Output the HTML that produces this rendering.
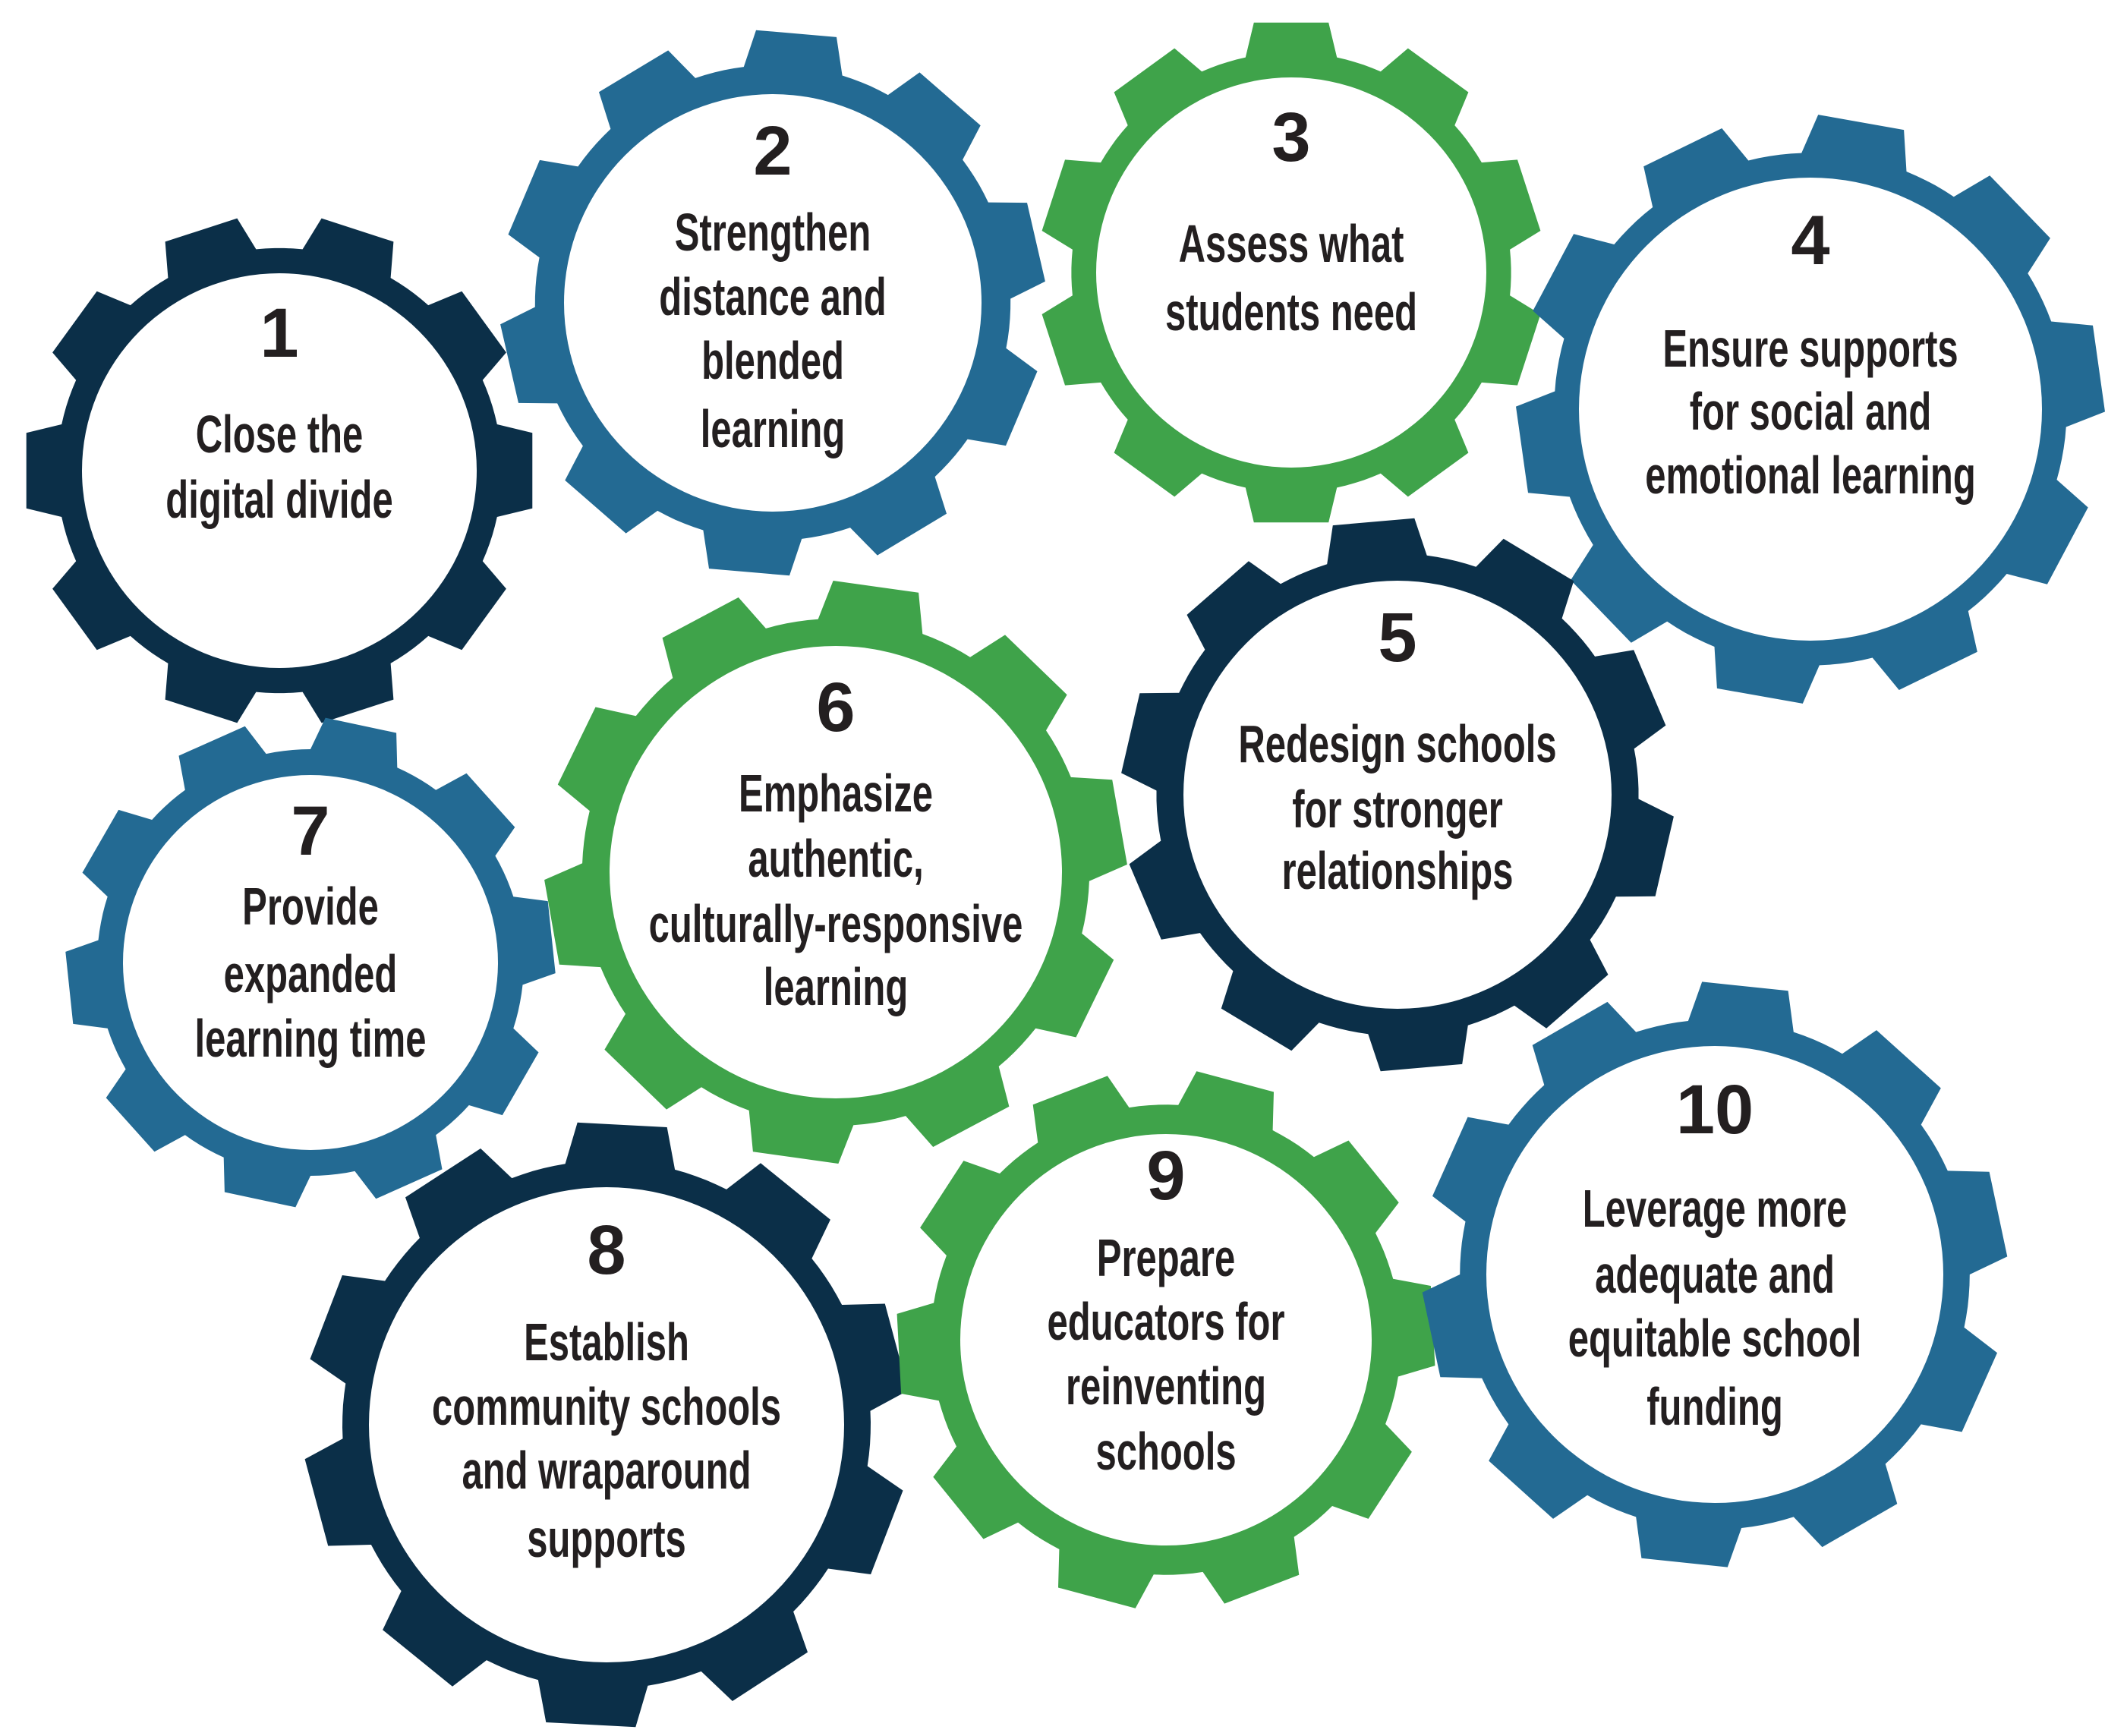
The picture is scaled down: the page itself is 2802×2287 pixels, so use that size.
<!DOCTYPE html>
<html><head><meta charset="utf-8"><style>
html,body{margin:0;padding:0;background:#fff}
svg{display:block}
text{font-family:"Liberation Sans",sans-serif;font-weight:bold;fill:#231f20;text-anchor:middle}
</style></head><body>
<svg id="s" width="2802" height="2287" viewBox="0 0 2802 2287" xmlns="http://www.w3.org/2000/svg">
<rect width="2802" height="2287" fill="#fff"/>
<g id="gears"></g>
<g id="texts"></g>
</svg>
<script>
var N='#0b2f48',B='#236a93',G='#3fa34a';
var gears=[
 [368,620,337,260,N,18,'1',470,[['Close the',596],['digital divide',682]]],
 [1018,399,360,275,B,5,'2',230,[['Strengthen',330],['distance and',415],['blended',499],['learning',589]]],
 [1701,359,333,257,G,0,'3',212,[['Assess what',345],['students need',435]]],
 [2385,539,388,305,B,10,'4',348,[['Ensure supports',483],['for social and',566],['emotional learning',650]]],
 [1841,1047,365,282,N,-5,'5',871,[['Redesign schools',1004],['for stronger',1090],['relationships',1171]]],
 [1101,1149,384,298,G,8,'6',963,[['Emphasize',1069],['authentic,',1155],['culturally-responsive',1241],['learning',1324]]],
 [409,1268,323,247,B,12,'7',1126,[['Provide',1218],['expanded',1307],['learning time',1392]]],
 [799,1877,400,313,N,3,'8',1678,[['Establish',1792],['community schools',1877],['and wraparound',1961],['supports',2051]]],
 [1536,1765,356,271,G,15,'9',1580,[['Prepare',1681],['educators for',1765],['reinventing',1850],['schools',1936]]],
 [2259,1679,386,301,B,6,'10',1493,[['Leverage more',1616],['adequate and',1703],['equitable school',1787],['funding',1877]]]
];
var ns='http://www.w3.org/2000/svg',gg=document.getElementById('gears'),tg=document.getElementById('texts');
function pt(cx,cy,r,a){a=(a-90)*Math.PI/180;return (cx+r*Math.cos(a)).toFixed(1)+','+(cy+r*Math.sin(a)).toFixed(1);}
gears.forEach(function(g){
 var cx=g[0],cy=g[1],R=g[2],ri=g[3],col=g[4],off=g[5],rr=R*0.87,d='';
 for(var i=0;i<10;i++){
  var c=off+i*36;
  d+=(i?'L':'M')+pt(cx,cy,rr,c-12)+'L'+pt(cx,cy,R,c-8.5)+'L'+pt(cx,cy,R,c+8.5)+'L'+pt(cx,cy,rr,c+12);
  for(var k=1;k<=4;k++){d+='L'+pt(cx,cy,rr,c+12+k*2.4);}
 }
 d+='Z';
 var p=document.createElementNS(ns,'path');p.setAttribute('d',d);p.setAttribute('fill',col);gg.appendChild(p);
 var ci=document.createElementNS(ns,'circle');ci.setAttribute('cx',cx);ci.setAttribute('cy',cy);ci.setAttribute('r',ri);ci.setAttribute('fill','#fff');gg.appendChild(ci);
 var t=document.createElementNS(ns,'text');t.setAttribute('x',cx);t.setAttribute('y',g[7]);t.setAttribute('font-size','92');t.style.fontWeight='900';t.textContent=g[6];tg.appendChild(t);
 g[8].forEach(function(l){
  var gr=document.createElementNS(ns,'g');gr.setAttribute('transform','translate('+cx+' 0) scale(0.7 1)');
  var tt=document.createElementNS(ns,'text');tt.setAttribute('x',0);tt.setAttribute('y',l[1]);tt.setAttribute('font-size','70');tt.textContent=l[0];
  gr.appendChild(tt);tg.appendChild(gr);
 });
});
</script>
</body></html>
